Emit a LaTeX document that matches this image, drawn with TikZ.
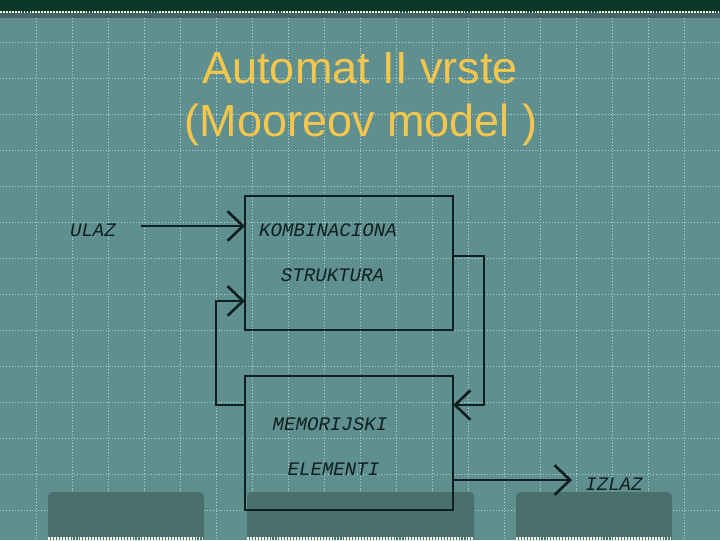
\documentclass[tikz,border=0pt]{standalone}
\usepackage{fontspec}
\setmainfont{Liberation Sans}
\newfontfamily\pisacafont{Liberation Mono}
\usetikzlibrary{positioning,arrows.meta,calc}

\definecolor{pozadina}{RGB}{95,143,143}
\definecolor{mrezaboja}{RGB}{175,215,212}
\definecolor{tamna}{RGB}{74,112,110}
\definecolor{traka}{RGB}{12,56,44}
\definecolor{pruga}{RGB}{238,244,222}
\definecolor{naslovboja}{RGB}{244,198,78}
\definecolor{linija}{RGB}{16,32,32}

\tikzset{
  blok/.style={draw=linija, line width=1.9pt, minimum width=5.2cm, minimum height=3.35cm,
    inner sep=0pt, outer sep=0pt},
  natpis/.style={text=linija, inner sep=0pt, font=\pisacafont\itshape\fontsize{13.6}{16}\selectfont},
  veza/.style={draw=linija, line width=1.9pt,
    -{Straight Barb[length=11pt,width=21pt]}},
  mreza/.style={draw=mrezaboja, line width=0.7pt, dash pattern=on 0.7pt off 1.4pt},
  naslov/.style={text=naslovboja, font=\fontsize{32}{38}\selectfont, inner sep=0pt, anchor=base},
  pruge/.style={draw=pruga, line width=2.6pt, dash pattern=on 1.3pt off 0.8pt}
}

\begin{document}
\begin{tikzpicture}[x=0.025cm, y=-0.025cm]
    % pozadina
    \useasboundingbox[fill=pozadina] (0,0) rectangle (720,540);
    \foreach \gx in {36,72,...,684}
      \draw[mreza] (\gx,18) -- (\gx,540);
    \foreach \k in {1,...,14}
      \draw[mreza] (0,6.7+36*\k) -- (720,6.7+36*\k);

    % gornja traka
    \fill[traka] (0,0) rectangle (720,12);
    \fill[tamna!90!black] (0,12) rectangle (720,18);
    \draw[pruge, line width=1.6pt] (0,12.3) -- (720,12.3);

    % donji blokovi
    \foreach \xa/\xb in {48/204, 247/474, 516/672}{
      \fill[tamna] (\xa,540) [rounded corners=3pt] -- (\xa,492) -- (\xb,492) [sharp corners] -- (\xb,540) -- cycle;
      \draw[pruge] (\xa,538.5) -- (\xb,538.5);
    }

    % naslov
    \node[naslov] (naslov1) at (360,83) {Automat II vrste};
    \node[naslov] (naslov2) at (361,136) {(Mooreov model )};

    % blokovi
    \node[blok] (komb) at (349,263) {};
    \node[blok, below=1.15cm of komb] (mem) {};

    \node[natpis] (kombtekst) at (328,230) {KOMBINACIONA};
    \node[natpis] (struktekst) at (332.5,275) {STRUKTURA};
    \node[natpis] (memtekst) at (330,424) {MEMORIJSKI};
    \node[natpis] (eltekst) at (333.5,469) {ELEMENTI};
    \node[natpis] (ulaz) at (93,230) {ULAZ};
    \node[natpis] (izlaz) at (614,484) {IZLAZ};

    \coordinate (ulazpoc) at (141,226);
    \coordinate (memlevo) at ($(mem.north west)+(0,29)$);
    \coordinate (kombdole) at ($(komb.north west)+(0,105)$);
    \coordinate (kombdesno) at ($(komb.north east)+(0,60)$);
    \coordinate (memdesno) at ($(mem.north east)+(0,29)$);
    \coordinate (izlazpoc) at ($(mem.north east)+(0,104)$);

    % veze
    \draw[veza] (ulazpoc) -- (komb.west |- ulazpoc);
    \draw[veza] (memlevo) -- ++(-29,0) |- (kombdole);
    \draw[veza] (kombdesno) -- ++(31,0) |- (memdesno);
    \draw[veza] (izlazpoc) -- ++(119,0) coordinate (izlazkraj);

  \end{tikzpicture}
\end{document}
